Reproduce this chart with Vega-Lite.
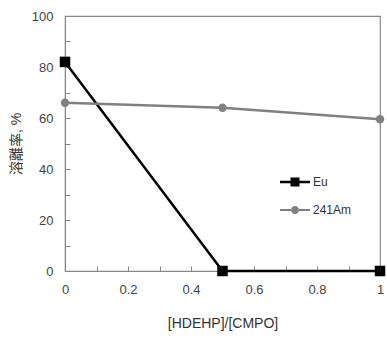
{
  "$schema": "https://vega.github.io/schema/vega-lite/v6.json",
  "width": 315,
  "height": 255,
  "autosize": {"type": "none"},
  "padding": {"left": 65, "top": 16, "right": 6, "bottom": 67},
  "background": "white",
  "config": {
    "view": {"stroke": "#888888", "strokeWidth": 1.2},
    "font": "Liberation Sans",
    "axis": {
      "domainColor": "#888888",
      "tickColor": "#888888",
      "tickSize": -5,
      "grid": false,
      "labelFont": "Liberation Sans",
      "labelFontSize": 13,
      "labelColor": "#444444",
      "titleFont": "Liberation Sans, Noto Sans CJK JP",
      "titleFontSize": 14,
      "titleFontWeight": "normal",
      "titleColor": "#333333"
    }
  },
  "data": {
    "values": [
      {"r": 0, "pct": 82, "s": "Eu"},
      {"r": 0.5, "pct": 0, "s": "Eu"},
      {"r": 1, "pct": 0, "s": "Eu"},
      {"r": 0, "pct": 66, "s": "241Am"},
      {"r": 0.5, "pct": 64, "s": "241Am"},
      {"r": 1, "pct": 59.5, "s": "241Am"}
    ]
  },
  "encoding": {
    "x": {
      "field": "r", "type": "quantitative",
      "scale": {"domain": [0, 1], "nice": false},
      "axis": {
        "title": "[HDEHP]/[CMPO]",
        "values": [0, 0.1, 0.2, 0.3, 0.4, 0.5, 0.6, 0.7, 0.8, 0.9, 1],
        "format": "~g",
        "labelExpr": "round(datum.value*10)%2==0 ? datum.label : ''",
        "labelPadding": 17,
        "titlePadding": 20,
        "labelFlush": false
      }
    },
    "y": {
      "field": "pct", "type": "quantitative",
      "scale": {"domain": [0, 100], "nice": false},
      "axis": {
        "title": "溶離率, %",
        "values": [0, 10, 20, 30, 40, 50, 60, 70, 80, 90, 100],
        "labelExpr": "round(datum.value/10)%2==0 ? datum.label : ''",
        "labelPadding": 17,
        "titlePadding": 8
      }
    }
  },
  "layer": [
    {
      "mark": {"type": "line", "strokeWidth": 2.5},
      "encoding": {
        "color": {
          "field": "s", "type": "nominal",
          "scale": {"domain": ["Eu", "241Am"], "range": ["#000000", "#808080"]},
          "legend": {
            "orient": "none",
            "legendX": 215,
            "legendY": 151,
            "title": null,
            "labelFontSize": 12,
            "labelColor": "#333333",
            "labelFont": "Liberation Sans",
            "rowPadding": 7,
            "labelOffset": 3,
            "symbolSize": 900,
            "symbolType": "M-1,-0.08H-0.3V0.08H-1Z M0.3,-0.08H1V0.08H0.3Z M-0.3,-0.3H0.3V0.3H-0.3Z",
            "symbolStrokeWidth": 0,
            "encode": {
              "symbols": {
                "update": {
                  "shape": {"signal": "datum.value == 'Eu' ? 'M-1,-0.08H-0.3V0.08H-1Z M0.3,-0.08H1V0.08H0.3Z M-0.3,-0.3H0.3V0.3H-0.3Z' : 'M-1,-0.07H-0.25V0.07H-1Z M0.25,-0.07H1V0.07H0.25Z M-0.27,0A0.27,0.27 0 1,0 0.27,0A0.27,0.27 0 1,0 -0.27,0Z'"},
                  "fill": {"signal": "datum.value == 'Eu' ? '#000000' : '#808080'"},
                  "fillOpacity": {"value": 1},
                  "strokeWidth": {"value": 0}
                }
              }
            }
          }
        }
      }
    },
    {
      "mark": {"type": "point", "filled": true, "opacity": 1},
      "encoding": {
        "shape": {"condition": {"test": "datum.s == 'Eu'", "value": "square"}, "value": "circle"},
        "size": {"condition": {"test": "datum.s == 'Eu'", "value": 110}, "value": 70},
        "fill": {"condition": {"test": "datum.s == 'Eu'", "value": "#000000"}, "value": "#808080"}
      }
    }
  ]
}
